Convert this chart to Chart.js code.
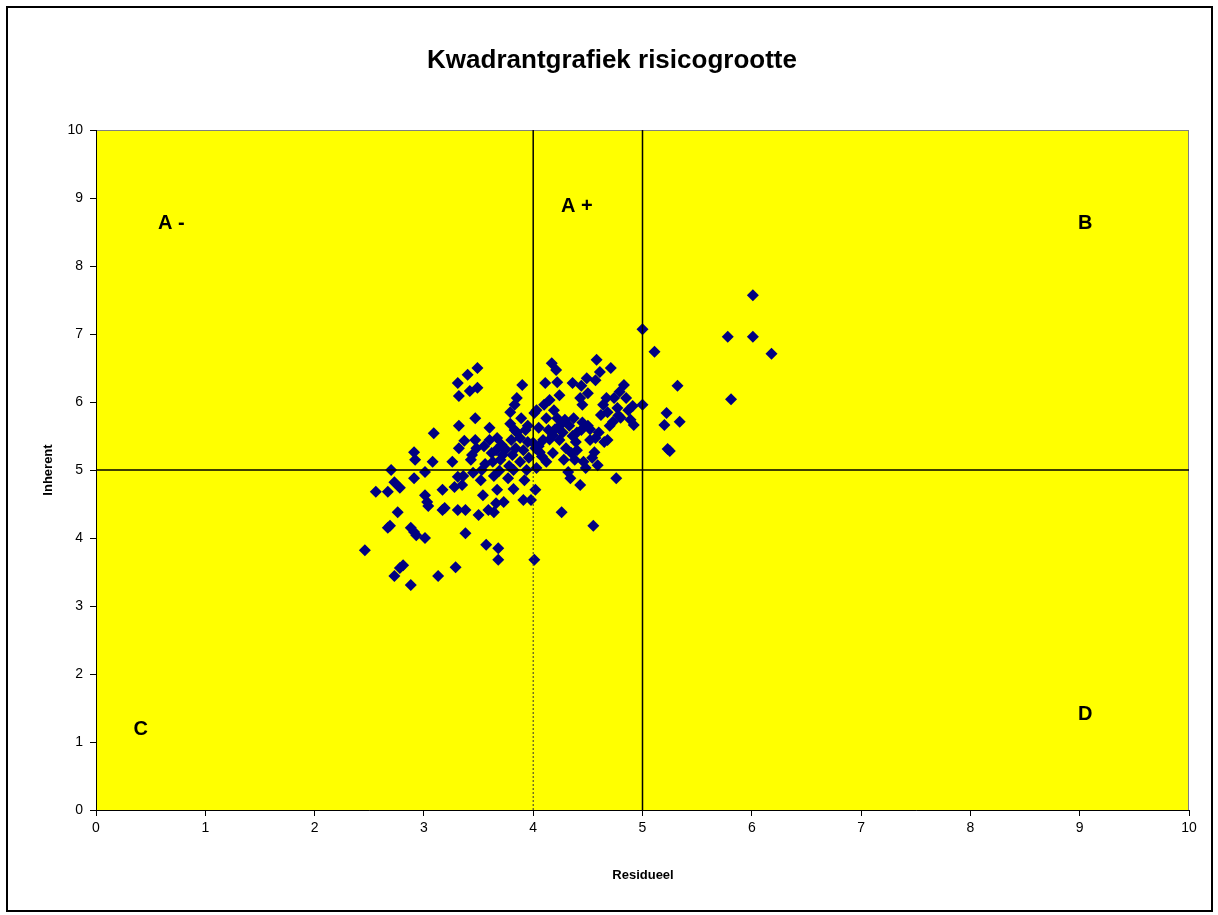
<!DOCTYPE html>
<html>
<head>
<meta charset="utf-8">
<script src="https://cdn.jsdelivr.net/npm/chart.js@4/dist/chart.umd.min.js"></script>
<style>
  html, body { margin: 0; padding: 0; background: #fff; }
  #wrap { width: 1218px; height: 915px; }
</style>
</head>
<body>
<div id="wrap"><canvas id="quadChart" width="1218" height="915"></canvas></div>
<script>
// Residueel (x) and Inherent (y) per risk
const residueel = [
  6.01, 5.78, 6.01, 6.18, 5.81, 5.00, 5.11, 5.32, 5.22, 5.34, 5.20, 5.23, 5.25, 5.00, 4.91,
  2.46, 2.56, 2.70, 2.67, 2.69, 2.67, 2.76, 2.73, 2.78, 2.73, 2.78, 2.81, 2.88, 2.91, 2.92,
  2.91, 2.91, 2.88, 2.93, 3.01, 3.01, 3.03, 3.08, 3.01, 3.04, 3.09, 3.13, 3.17, 3.17, 3.19,
  3.29, 3.26, 3.28, 3.31, 3.31, 3.32, 3.32, 3.32, 3.31, 3.35, 3.38, 3.37, 3.36, 3.38, 3.40,
  3.42, 3.44, 3.45, 3.43, 3.47, 3.47, 3.48, 3.49, 3.49, 3.50, 3.53, 3.52, 3.54, 3.56, 3.57,
  3.59, 3.60, 3.60, 3.63, 3.64, 3.64, 3.66, 3.67, 3.67, 3.66, 3.68, 3.68, 3.69, 3.71, 3.72,
  3.73, 3.77, 3.78, 3.79, 3.79, 3.80, 3.81, 3.82, 3.82, 3.83, 3.84, 3.83, 3.85, 3.88, 3.88,
  3.89, 3.90, 3.91, 3.92, 3.91, 3.93, 3.94, 3.95, 3.96, 3.98, 4.01, 4.00, 4.01, 4.02, 4.02,
  4.03, 4.03, 4.05, 4.06, 4.09, 4.10, 4.11, 4.12, 4.12, 4.14, 4.15, 4.17, 4.18, 4.19, 4.21,
  4.22, 4.22, 4.24, 4.24, 4.25, 4.26, 4.28, 4.29, 4.30, 4.32, 4.34, 4.36, 4.36, 4.37, 4.38,
  4.39, 4.40, 4.43, 4.43, 4.44, 4.44, 4.45, 4.46, 4.48, 4.49, 4.50, 4.50, 4.52, 4.54, 4.55,
  4.56, 4.57, 4.57, 4.58, 4.59, 4.61, 4.62, 4.64, 4.65, 4.67, 4.68, 4.68, 4.71, 4.73, 4.74,
  4.76, 4.77, 4.79, 4.80, 4.83, 4.85, 4.87, 4.89, 4.92,
  3.85, 3.95, 4.05, 4.15, 4.20, 4.27, 4.33, 4.40, 4.45, 4.52, 3.75, 3.70, 3.62, 3.55, 4.08,
  4.18, 4.35, 4.60, 4.70, 4.78
];
const inherent = [
  7.57, 6.96, 6.96, 6.71, 6.04, 7.07, 6.74, 6.24, 5.84, 5.71, 5.66, 5.31, 5.28, 5.96, 5.94,
  3.82, 4.68, 5.00, 4.68, 4.18, 4.15, 4.38, 4.82, 4.74, 3.44, 3.56, 3.60, 3.31, 5.26, 5.15,
  4.88, 4.09, 4.15, 4.04, 4.00, 4.97, 4.53, 5.12, 4.63, 4.47, 5.54, 3.44, 4.71, 4.41, 4.44,
  3.57, 5.12, 4.75, 4.41, 4.90, 5.32, 5.65, 6.09, 6.28, 4.78, 4.41, 5.43, 4.91, 4.07, 6.40,
  6.16, 5.22, 4.96, 5.15, 5.76, 5.44, 5.32, 6.50, 6.21, 4.34, 5.00, 4.85, 4.63, 5.09, 3.90,
  4.41, 5.44, 5.62, 5.12, 4.91, 4.38, 5.29, 4.71, 5.47, 4.51, 3.85, 3.68, 4.99, 5.37, 5.22,
  4.53, 4.88, 5.06, 5.68, 5.85, 5.44, 5.22, 4.72, 5.00, 5.59, 5.32, 5.96, 6.06, 5.12, 5.47,
  5.76, 6.25, 5.29, 4.85, 4.56, 5.59, 5.00, 5.41, 5.18, 4.56, 5.84, 5.40, 3.68, 5.32, 4.71,
  5.03, 5.88, 5.62, 5.26, 5.44, 5.96, 6.28, 5.76, 5.12, 5.59, 6.03, 6.57, 5.51, 5.88, 6.47,
  6.29, 5.76, 5.44, 6.10, 5.66, 4.38, 5.15, 5.74, 5.32, 4.97, 4.88, 6.28, 5.50, 5.76, 5.15,
  5.41, 5.29, 6.06, 4.78, 5.59, 6.24, 5.96, 5.12, 5.03, 6.35, 6.13, 5.65, 5.44, 5.18, 4.18,
  5.26, 6.32, 5.47, 6.62, 5.07, 6.44, 5.81, 5.96, 5.41, 6.06, 5.85, 5.44, 6.50, 5.71, 6.06,
  4.88, 5.91, 6.15, 5.77, 6.25, 6.06, 5.88, 5.74, 5.66,
  5.55, 5.65, 5.35, 5.45, 5.60, 5.55, 5.65, 5.55, 5.70, 5.60, 5.30, 5.15, 5.25, 5.35, 5.20,
  5.25, 5.25, 5.55, 5.65, 5.80
];

// quadrant divider lines (x, y endpoints)
const lineX4Top = [[4, 5], [4, 10]];
const lineX4Bottom = [[4, 0], [4, 5]];
const lineX5 = [[5, 0], [5, 10]];
const lineY5 = [[0, 5], [10, 5]];

// quadrant labels: text, x, y (data units)
const quadLabels = ['A -', 'A +', 'B', 'C', 'D'];
const quadX = [0.69, 4.40, 9.05, 0.41, 9.05];
const quadY = [8.63, 8.88, 8.63, 1.19, 1.41];

const xTicks = [0, 1, 2, 3, 4, 5, 6, 7, 8, 9, 10];
const yTicks = [0, 1, 2, 3, 4, 5, 6, 7, 8, 9, 10];

const FONT = "'Liberation Sans', Arial, sans-serif";
const toPts = pairs => pairs.map(p => ({ x: p[0], y: p[1] }));

const chartDecor = {
    id: 'chartDecor',
    beforeDraw(chart) {
        const { ctx, chartArea: a } = chart;
        ctx.save();
        ctx.fillStyle = '#FFFF00';
        ctx.fillRect(a.left, a.top, a.right - a.left, a.bottom - a.top);
        ctx.strokeStyle = '#808080';
        ctx.lineWidth = 1;
        ctx.strokeRect(a.left + 0.5, a.top + 0.5, a.right - a.left - 1, a.bottom - a.top);
        ctx.restore();
    },
    afterDraw(chart) {
        const { ctx, scales } = chart;
        ctx.save();
        // outer frame
        ctx.strokeStyle = '#000';
        ctx.lineWidth = 2;
        ctx.strokeRect(7, 7, 1205, 904);

        ctx.fillStyle = '#000';
        ctx.textAlign = 'center';
        ctx.textBaseline = 'middle';
        ctx.font = `bold 26px ${FONT}`;
        ctx.fillText('Kwadrantgrafiek risicogrootte', 612, 61);

        ctx.font = `bold 13px ${FONT}`;
        ctx.fillText('Residueel', 643, 875);
        ctx.save();
        ctx.translate(48, 470);
        ctx.rotate(-Math.PI / 2);
        ctx.fillText('Inherent', 0, 0);
        ctx.restore();

        ctx.font = `bold 20px ${FONT}`;
        quadLabels.forEach((t, i) => {
            ctx.fillText(t, scales.x.getPixelForValue(quadX[i]), scales.y.getPixelForValue(quadY[i]));
        });
        ctx.restore();
    }
};

const ctx = document.getElementById('quadChart').getContext('2d');
new Chart(ctx, {
    type: 'scatter',
    data: {
        datasets: [
            { data: toPts(lineX4Top), showLine: true, borderColor: '#000', borderWidth: 1.5, pointRadius: 0, order: 0 },
            { data: toPts(lineX4Bottom), showLine: true, borderColor: '#333', borderWidth: 1, borderDash: [2, 2], pointRadius: 0, order: 0 },
            { data: toPts(lineX5), showLine: true, borderColor: '#000', borderWidth: 1.5, pointRadius: 0, order: 0 },
            { data: toPts(lineY5), showLine: true, borderColor: '#000', borderWidth: 1.5, pointRadius: 0, order: 0 },
            {
                label: 'Risico',
                data: residueel.map((x, i) => ({ x: x, y: inherent[i] })),
                pointStyle: 'rectRot',
                pointRadius: 6,
                backgroundColor: '#000080',
                borderWidth: 0,
                order: 1
            }
        ]
    },
    options: {
        responsive: false,
        animation: false,
        layout: { padding: { top: 130, right: 29, left: 0, bottom: 0 } },
        plugins: { legend: { display: false }, tooltip: { enabled: false } },
        scales: {
            x: {
                type: 'linear', min: 0, max: 10,
                afterBuildTicks: s => { s.ticks = xTicks.map(v => ({ value: v })); },
                afterFit: s => { s.height = 105; },
                grid: { drawOnChartArea: false, color: '#000', tickLength: 6 },
                border: { color: '#000', width: 1 },
                ticks: { color: '#000', font: { family: FONT, size: 14 }, padding: 4, maxRotation: 0 }
            },
            y: {
                type: 'linear', min: 0, max: 10,
                afterBuildTicks: s => { s.ticks = yTicks.map(v => ({ value: v })); },
                afterFit: s => { s.width = 96; },
                grid: { drawOnChartArea: false, color: '#000', tickLength: 6 },
                border: { color: '#000', width: 1 },
                ticks: { color: '#000', font: { family: FONT, size: 14 }, padding: 7 }
            }
        }
    },
    plugins: [chartDecor]
});
</script>
</body>
</html>
